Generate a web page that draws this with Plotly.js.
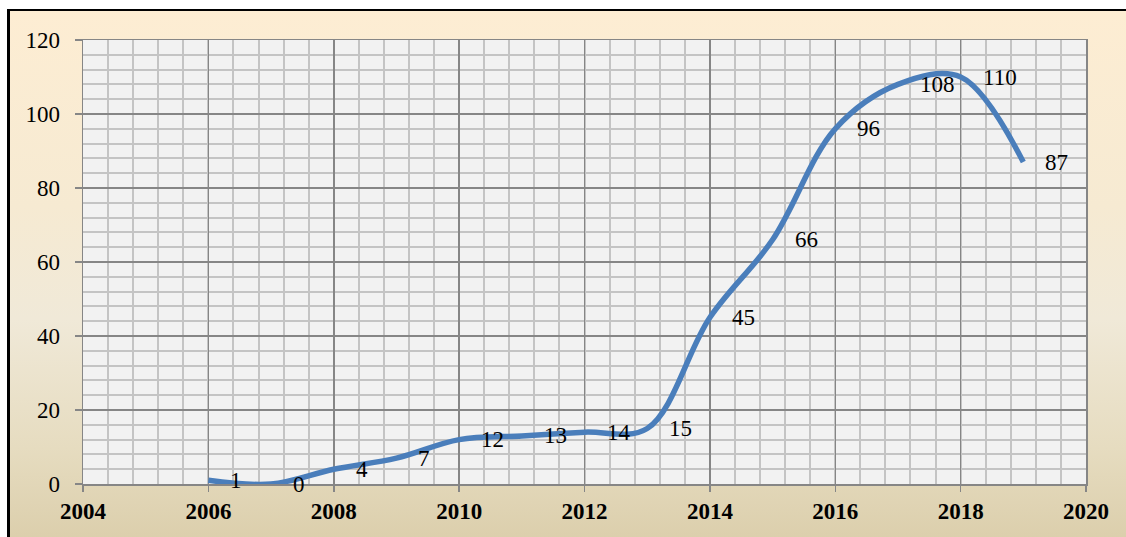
<!DOCTYPE html>
<html>
<head>
<meta charset="utf-8">
<script src="https://cdn.plot.ly/plotly-3.0.1.min.js"></script>
<style>
  html, body { margin: 0; padding: 0; background: #ffffff; width: 1126px; height: 537px; overflow: hidden; }
  #bg {
    position: absolute; left: 7px; top: 9px; width: 1140px; height: 560px;
    border-left: 3px solid #000; border-top: 2px solid #000;
    background: linear-gradient(to bottom, #fdedd3 0%, #f6ead2 35%, #f0e9d8 55%, #e6dcc0 78%, #d8caa5 100%);
  }
  #chart { position: absolute; left: 0; top: 0; width: 1126px; height: 537px; }
</style>
</head>
<body>
<div id="bg"></div>
<div id="chart"></div>
<script>
const years  = [2006, 2007, 2008, 2009, 2010, 2011, 2012, 2013, 2014, 2015, 2016, 2017, 2018, 2019];
const counts = [1, 0, 4, 7, 12, 13, 14, 15, 45, 66, 96, 108, 110, 87];
const xTickVals = [2004, 2006, 2008, 2010, 2012, 2014, 2016, 2018, 2020];
const yTickVals = [0, 20, 40, 60, 80, 100, 120];

const serif = 'Liberation Serif';

const trace = {
  x: years,
  y: counts,
  type: 'scatter',
  mode: 'lines',
  line: { color: '#4a7ebb', width: 5.5, shape: 'spline', smoothing: 1 },
  hoverinfo: 'x+y',
  showlegend: false
};

const annotations = years.map((yr, i) => ({
  x: yr, y: counts[i], xref: 'x', yref: 'y',
  text: String(counts[i]), showarrow: false,
  xanchor: 'left', yanchor: 'middle', xshift: 20,
  font: { family: serif, size: 23, color: '#000' }
}));

const layout = {
  width: 1126, height: 537,
  margin: { l: 83, r: 40, t: 40, b: 53, pad: 0 },
  paper_bgcolor: 'rgba(0,0,0,0)',
  plot_bgcolor: '#f2f2f2',
  font: { family: serif },
  xaxis: {
    range: [2004, 2020],
    tickvals: xTickVals,
    ticktext: xTickVals.map(String),
    showgrid: true, gridcolor: '#868686', gridwidth: 1.5,
    minor: { dtick: 0.4, tick0: 2004, showgrid: true, gridcolor: '#c4c4c4', gridwidth: 2 },
    showline: true, linecolor: '#868686', linewidth: 1.5, mirror: true,
    ticks: 'outside', ticklen: 6, tickcolor: '#868686', tickwidth: 1.5,
    ticklabelstandoff: 0,
    tickfont: { family: serif, size: 23, color: '#000', weight: 'bold' },
    zeroline: false, fixedrange: true
  },
  yaxis: {
    range: [0, 120],
    tickvals: yTickVals,
    ticktext: yTickVals.map(String),
    showgrid: true, gridcolor: '#868686', gridwidth: 1.5,
    minor: { dtick: 4, tick0: 0, showgrid: true, gridcolor: '#c4c4c4', gridwidth: 2 },
    showline: true, linecolor: '#868686', linewidth: 1.5, mirror: true,
    ticks: 'outside', ticklen: 7, tickcolor: '#868686', tickwidth: 1.5,
    ticklabelstandoff: 10,
    tickfont: { family: serif, size: 23, color: '#000' },
    zeroline: false, fixedrange: true
  },
  annotations: annotations
};

Plotly.newPlot('chart', [trace], layout, { displayModeBar: false, staticPlot: true });
</script>
</body>
</html>
